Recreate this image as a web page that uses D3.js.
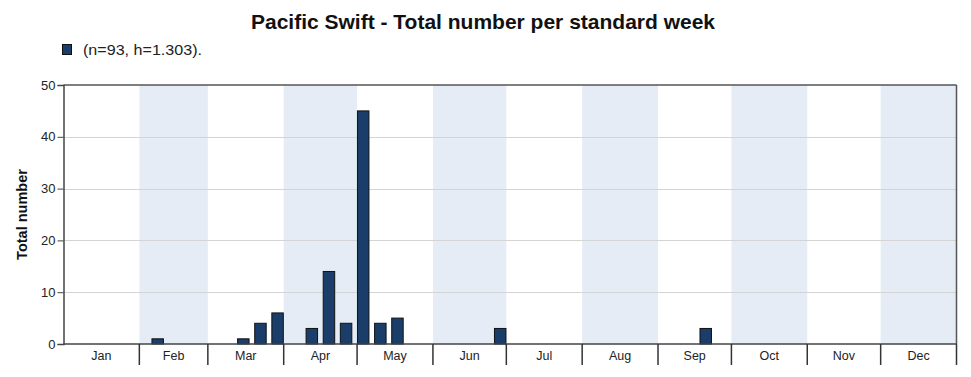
<!DOCTYPE html>
<html><head><meta charset="utf-8">
<script src="https://cdn.jsdelivr.net/npm/d3@7"></script>
<style>body{margin:0;background:#fff}svg{display:block}text{font-family:"Liberation Sans",Arial,sans-serif}</style>
</head><body><svg id="c" width="971" height="377"></svg>
<script>
const months = ["Jan","Feb","Mar","Apr","May","Jun","Jul","Aug","Sep","Oct","Nov","Dec"];
const monthDays = [31,28,31,30,31,30,31,31,30,31,30,31];
const weeks = [6, 11, 12, 13, 15, 16, 17, 18, 19, 20, 26, 38];
const counts = [1, 1, 4, 6, 3, 14, 4, 45, 4, 5, 3, 3];
const yTicks = [0, 10, 20, 30, 40, 50];
const title = "Pacific Swift - Total number per standard week";
const legendText = "(n=93, h=1.303).";

const svg = d3.select("#c");
const L = 63.5, R = 956.5, T = 85, B = 344;
const x = d3.scaleLinear().domain([0, 365]).range([L, R]);
const y = d3.scaleLinear().domain([0, 50]).range([B, T]);

const starts = [];
let acc = 0;
monthDays.forEach(d => { starts.push(acc); acc += d; });

// bands
svg.append("g").selectAll("rect").data(months).join("rect")
  .attr("x", (m,i) => x(starts[i])).attr("width", (m,i) => x(starts[i]+monthDays[i]) - x(starts[i]))
  .attr("y", T).attr("height", B - T)
  .attr("fill", (m,i) => i % 2 === 1 ? "#e6ecf6" : "none");

// gridlines
svg.append("g").selectAll("line").data(yTicks.filter(v => v > 0 && v < 50)).join("line")
  .attr("x1", L).attr("x2", R).attr("y1", d => Math.round(y(d)) + 0.5).attr("y2", d => Math.round(y(d)) + 0.5)
  .attr("stroke", "#d4d4d4").attr("stroke-width", 1);

// bars
const bw = x(7 * 0.67) - x(0);
svg.append("g").selectAll("rect").data(weeks).join("rect")
  .attr("x", (w) => x(7 * (w - 1) + 3.5) - bw / 2)
  .attr("width", bw)
  .attr("y", (w,i) => y(counts[i]))
  .attr("height", (w,i) => B - y(counts[i]))
  .attr("fill", "#1a3e69").attr("stroke", "#111").attr("stroke-width", 1);

// frame
svg.append("line").attr("x1", L).attr("x2", R).attr("y1", T).attr("y2", T).attr("stroke", "#555").attr("stroke-width", 1.5);
svg.append("line").attr("x1", R).attr("x2", R).attr("y1", T).attr("y2", B).attr("stroke", "#555").attr("stroke-width", 1.5);

// y axis
const ya = svg.append("g").attr("transform", `translate(${L},0)`)
  .call(d3.axisLeft(y).tickValues(yTicks).tickSize(6).tickPadding(2));
ya.select(".domain").attr("stroke", "#444").attr("stroke-width", 1.5);
ya.selectAll(".tick line").attr("stroke", "#444");
ya.selectAll("text").attr("font-size", 13).attr("fill", "#222").attr("font-family", "Liberation Sans, Arial, sans-serif");

// x axis baseline and month separators
svg.append("line").attr("x1", L).attr("x2", R).attr("y1", B).attr("y2", B).attr("stroke", "#444").attr("stroke-width", 1.5);
const bounds = starts.slice(1).concat([365]);
svg.append("g").selectAll("line").data(bounds).join("line")
  .attr("x1", d => x(d)).attr("x2", d => x(d)).attr("y1", B).attr("y2", 365)
  .attr("stroke", "#333").attr("stroke-width", 1.5);
svg.append("g").selectAll("text").data(months).join("text")
  .attr("x", (m,i) => x(starts[i] + monthDays[i] / 2)).attr("y", 360)
  .attr("text-anchor", "middle").attr("font-size", 12.5).attr("fill", "#222").text(d => d);

// y label
svg.append("text").attr("transform", `translate(27,${(T + B) / 2}) rotate(-90)`)
  .attr("text-anchor", "middle").attr("font-size", 14.5).attr("font-weight", "bold").attr("fill", "#111").text("Total number");

// title
svg.append("text").attr("x", 483).attr("y", 29).attr("text-anchor", "middle")
  .attr("font-size", 21).attr("font-weight", "bold").attr("fill", "#111").text(title);

// legend
svg.append("rect").attr("x", 62.5).attr("y", 44.5).attr("width", 9).attr("height", 10)
  .attr("fill", "#1a3e69").attr("stroke", "#111");
svg.append("text").attr("x", 83).attr("y", 55).attr("font-size", 14).attr("fill", "#222")
  .attr("textLength", 119).attr("lengthAdjust", "spacingAndGlyphs").text(legendText);
</script></body></html>
